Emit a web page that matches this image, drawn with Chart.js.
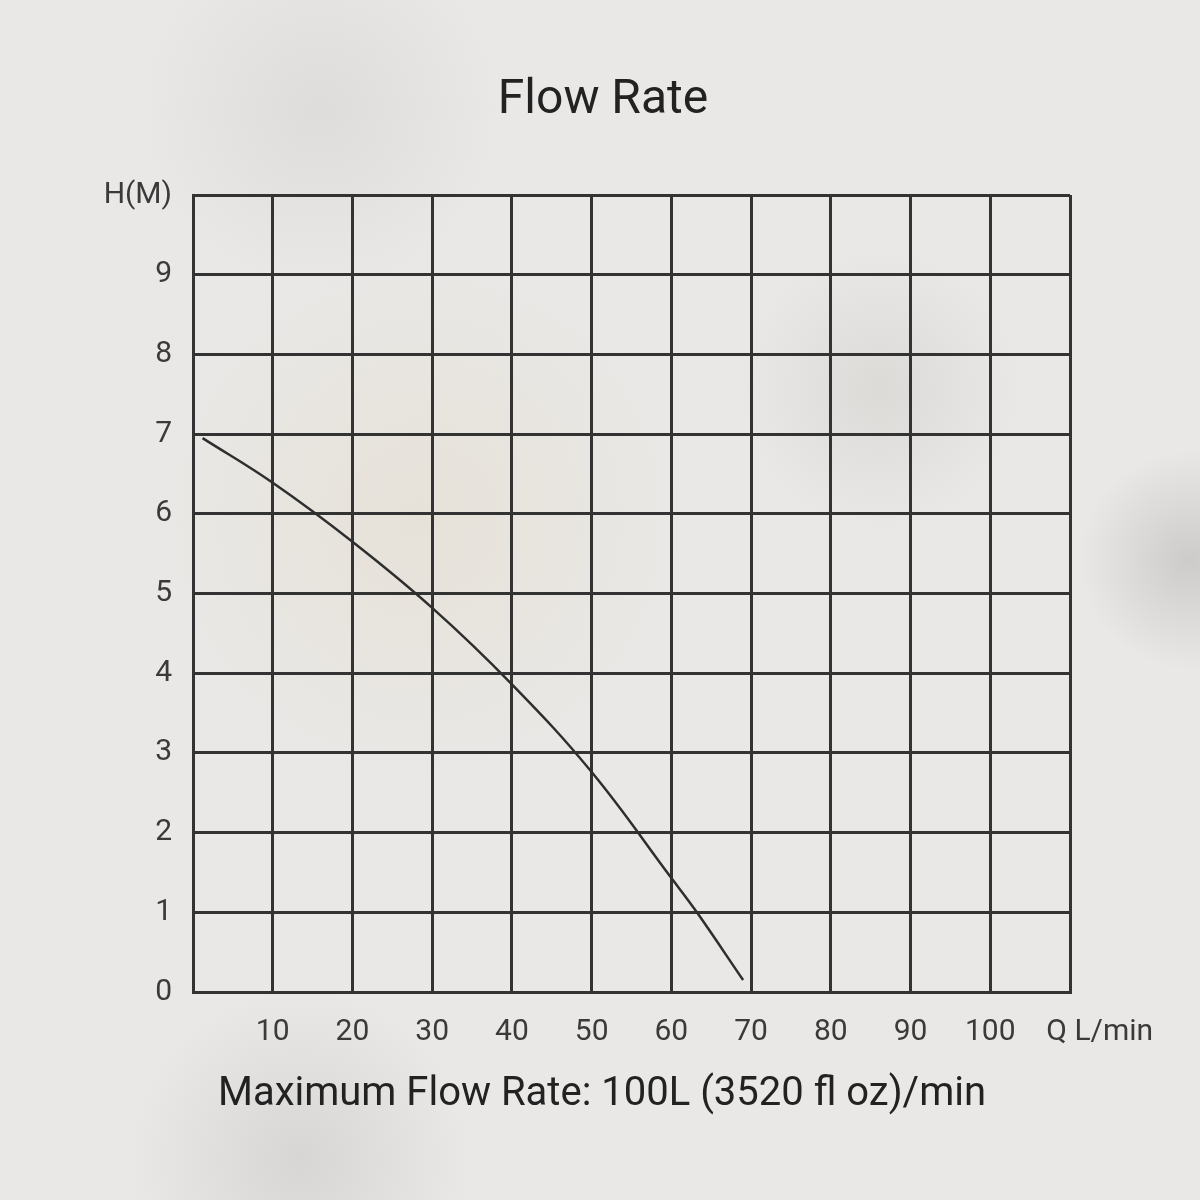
<!DOCTYPE html>
<html>
<head>
<meta charset="utf-8">
<script src="https://cdn.jsdelivr.net/npm/chart.js@4/dist/chart.umd.min.js"></script>
<style>
  html, body { margin: 0; padding: 0; }
  body {
    width: 1200px; height: 1200px;
    background:
      radial-gradient(circle at 880px 390px, rgba(170,170,165,0.22) 0px, rgba(170,170,165,0) 140px),
      radial-gradient(circle at 1190px 560px, rgba(150,150,150,0.35) 0px, rgba(150,150,150,0) 110px),
      radial-gradient(circle at 300px 1160px, rgba(160,160,160,0.25) 0px, rgba(160,160,160,0) 170px),
      radial-gradient(circle at 420px 520px, rgba(225,210,185,0.3) 0px, rgba(225,210,185,0) 260px),
      radial-gradient(circle at 320px 110px, rgba(180,180,180,0.22) 0px, rgba(180,180,180,0) 180px),
      #e9e8e6;
  }
  #wrap { width: 1200px; height: 1200px; position: relative; }
  .txt {
    position: absolute; left: 0; width: 1200px; text-align: center;
    font-family: Roboto, "Noto Sans", sans-serif; color: #222222;
  }
  #title { top: 68px; font-size: 48px; left: 3px; }
  #note { top: 1068px; font-size: 40px; left: 2px; }
</style>
</head>
<body>
<div id="wrap">
  <canvas id="flow_chart" width="1200" height="1200"></canvas>
  <div class="txt" id="title">Flow Rate</div>
  <div class="txt" id="note">Maximum Flow Rate: 100L (3520 fl oz)/min</div>
</div>
<script>
// pump curve: flow Q (L/min) vs head H (m)
var flowQ = [1.2, 10, 20, 30, 40, 50, 60, 63.2, 69];
var headH = [6.95, 6.39, 5.65, 4.82, 3.86, 2.76, 1.43, 1.0, 0.15];

var xTicks = [10, 20, 30, 40, 50, 60, 70, 80, 90, 100];
var yTicks = [0, 1, 2, 3, 4, 5, 6, 7, 8, 9];

var points = flowQ.map(function (q, i) { return { x: q, y: headH[i] }; });

var ink = '#333333';
var fontFam = 'Roboto, "Noto Sans", sans-serif';

var ctx = document.getElementById('flow_chart').getContext('2d');
var chart = new Chart(ctx, {
    type: 'scatter',
    data: {
        datasets: [{
            data: points,
            showLine: true,
            borderColor: '#2e2e2e',
            borderWidth: 2.5,
            pointRadius: 0,
            tension: 0.4
        }]
    },
    options: {
        responsive: false,
        animation: false,
        layout: {
            padding: { left: 0, right: 130, top: 195, bottom: 152 }
        },
        scales: {
            x: {
                type: 'linear',
                min: 0,
                max: 110,
                afterBuildTicks: function (scale) {
                    scale.ticks = [0].concat(xTicks, [110]).map(function (v) { return { value: v }; });
                },
                afterFit: function (scale) {
                    scale.height = 56;
                },
                ticks: {
                    autoSkip: false,
                    maxRotation: 0,
                    padding: 22,
                    color: '#3a3a3a',
                    font: { family: fontFam, size: 30 },
                    callback: function (value) {
                        if (value === 0) return '';
                        if (value === 110) return '        Q L/min';
                        return value;
                    }
                },
                grid: { color: ink, lineWidth: 3, drawTicks: false },
                border: { color: ink, width: 3 }
            },
            y: {
                min: 0,
                max: 10,
                afterBuildTicks: function (scale) {
                    scale.ticks = yTicks.concat([10]).map(function (v) { return { value: v }; });
                },
                afterFit: function (scale) {
                    scale.width = 193;
                },
                ticks: {
                    padding: 21,
                    color: '#3a3a3a',
                    font: { family: fontFam, size: 30 },
                    callback: function (value) {
                        return value === 10 ? 'H(M)' : value;
                    }
                },
                grid: { color: ink, lineWidth: 3, drawTicks: false },
                border: { color: ink, width: 3 }
            }
        },
        plugins: {
            legend: { display: false },
            tooltip: { enabled: false }
        }
    }
});
</script>
</body>
</html>
